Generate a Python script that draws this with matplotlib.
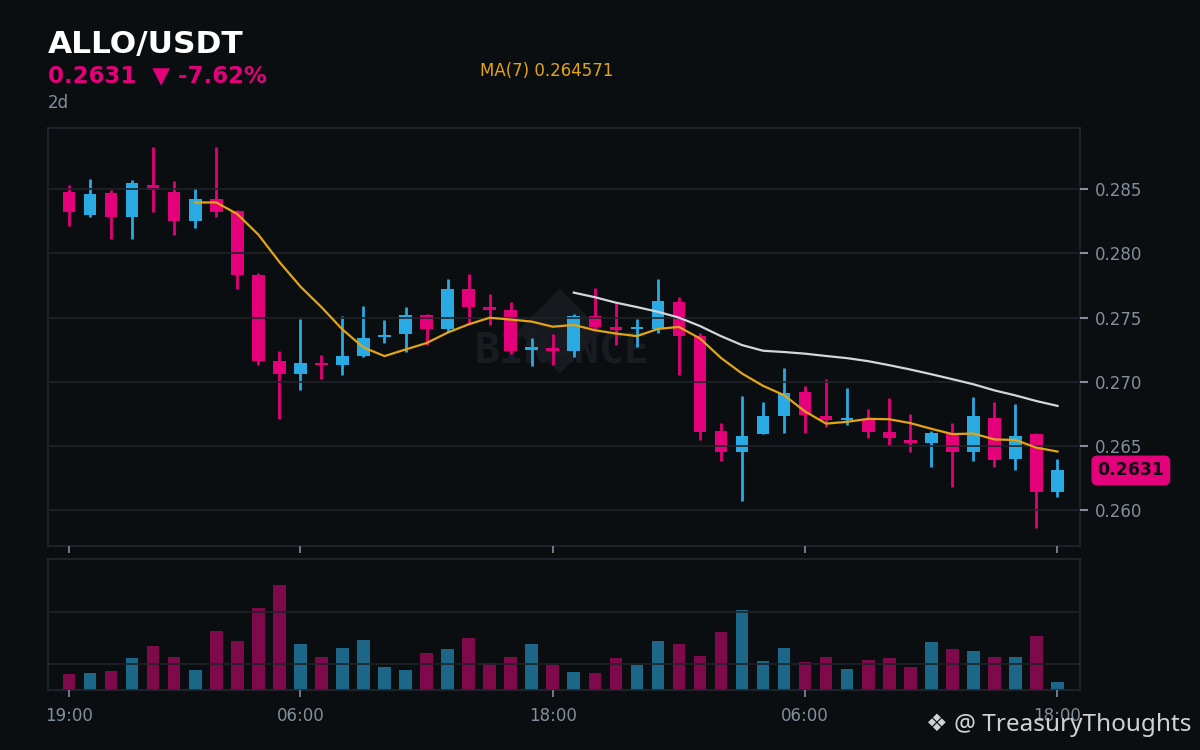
import numpy as np
import pandas as pd
import matplotlib
matplotlib.use('Agg')
import matplotlib.pyplot as plt

# hourly candles, 19:00 -> 18:00 two days later
opens = [0.2848, 0.2830, 0.2847, 0.2828, 0.2853, 0.2848, 0.2825, 0.2842, 0.2833, 0.2783, 0.2716, 0.2706,
         0.2715, 0.2713, 0.2720, 0.2735, 0.2737, 0.2752, 0.2741, 0.2772, 0.2758, 0.2756, 0.2725, 0.2726,
         0.2724, 0.2751, 0.2743, 0.2741, 0.2741, 0.2762, 0.2736, 0.2662, 0.2645, 0.2659, 0.2673, 0.2692,
         0.2673, 0.2670, 0.2670, 0.2661, 0.2655, 0.2652, 0.2660, 0.2645, 0.2672, 0.2640, 0.2659, 0.2614]
closes = [0.2832, 0.2846, 0.2828, 0.2855, 0.2849, 0.2825, 0.2842, 0.2832, 0.2783, 0.2716, 0.2706, 0.2715,
          0.2713, 0.2720, 0.2734, 0.2736, 0.2752, 0.2741, 0.2772, 0.2758, 0.2756, 0.2724, 0.2725, 0.2724,
          0.2751, 0.2743, 0.2740, 0.2742, 0.2763, 0.2736, 0.2661, 0.2645, 0.2658, 0.2673, 0.2691, 0.2674,
          0.2670, 0.2671, 0.2661, 0.2656, 0.2652, 0.2660, 0.2645, 0.2673, 0.2639, 0.2658, 0.2614, 0.2631]
highs = [0.2853, 0.2858, 0.2849, 0.2857, 0.2883, 0.2856, 0.2851, 0.2883, 0.2834, 0.2785, 0.2724, 0.2749,
         0.2721, 0.2751, 0.2759, 0.2748, 0.2758, 0.2753, 0.2780, 0.2784, 0.2768, 0.2762, 0.2734, 0.2737,
         0.2753, 0.2773, 0.2761, 0.2749, 0.2780, 0.2766, 0.2738, 0.2668, 0.2689, 0.2684, 0.2711, 0.2697,
         0.2702, 0.2695, 0.2679, 0.2687, 0.2675, 0.2662, 0.2668, 0.2688, 0.2684, 0.2683, 0.2660, 0.2640]
lows = [0.2821, 0.2828, 0.2811, 0.2811, 0.2832, 0.2814, 0.2820, 0.2828, 0.2772, 0.2713, 0.2671, 0.2694,
        0.2702, 0.2705, 0.2719, 0.2730, 0.2723, 0.2729, 0.2739, 0.2745, 0.2744, 0.2722, 0.2712, 0.2713,
        0.2719, 0.2741, 0.2729, 0.2727, 0.2738, 0.2705, 0.2655, 0.2638, 0.2607, 0.2659, 0.2660, 0.2660,
        0.2665, 0.2666, 0.2656, 0.2651, 0.2645, 0.2634, 0.2618, 0.2638, 0.2634, 0.2631, 0.2586, 0.2610]
volumes = [0.81, 0.83, 0.87, 1.12, 1.35, 1.14, 0.89, 1.64, 1.44, 2.08, 2.52, 1.39,
           1.14, 1.31, 1.46, 0.96, 0.89, 1.21, 1.29, 1.50, 1.02, 1.15, 1.40, 0.98,
           0.85, 0.83, 1.12, 0.98, 1.44, 1.40, 1.17, 1.62, 2.04, 1.06, 1.31, 1.04,
           1.15, 0.92, 1.08, 1.12, 0.96, 1.42, 1.29, 1.25, 1.14, 1.15, 1.54, 0.67]
tick_pos = [0, 11, 23, 35, 47]
tick_labels = ['19:00', '06:00', '18:00', '06:00', '18:00']
price_ticks = [0.260, 0.265, 0.270, 0.275, 0.280, 0.285]

BG = '#0b0e11'
GRID = '#1f2329'
SPINE = '#24282e'
TXT = '#848e9c'
UP = '#2aaae2'
DOWN = '#e4007a'
UP_VOL = '#1c6688'
DOWN_VOL = '#7e0a4b'

df = pd.DataFrame({'open': opens, 'high': highs, 'low': lows, 'close': closes, 'vol': volumes})
df['ma7'] = df['close'].rolling(7).mean()
df['ma25'] = df['close'].rolling(25).mean()
x = np.arange(len(df))
up = df['close'] >= df['open']
colors = np.where(up, UP, DOWN)
vcolors = np.where(up, UP_VOL, DOWN_VOL)

fig = plt.figure(figsize=(12, 7.5), dpi=100, facecolor=BG)
ax = fig.add_axes([0.04, 0.272, 0.86, 0.5573])
axv = fig.add_axes([0.04, 0.08, 0.86, 0.1747])

for a in (ax, axv):
    a.set_facecolor(BG)
    for s in a.spines.values():
        s.set_color(SPINE)
        s.set_linewidth(1.2)
    a.set_xlim(-1.0, 48.07)
    a.set_axisbelow(False)
    a.grid(axis='y', color=GRID, linewidth=1.2)
    a.set_xticks(tick_pos)
    a.tick_params(axis='x', colors=TXT, length=5, width=1.2, labelsize=12, pad=7)

# candles
body_bot = np.minimum(df['open'], df['close'])
body_h = np.maximum((df['open'] - df['close']).abs(), 0.00018)
ax.vlines(x, df['low'], df['high'], colors=colors, linewidth=2, zorder=1)
ax.bar(x, body_h, bottom=body_bot, width=0.6, color=colors, zorder=1.5)
ax.plot(x, df['ma7'], color='#e3a512', linewidth=1.6, zorder=3)
ax.plot(x, df['ma25'], color='#d4d6da', linewidth=1.6, zorder=3)

ax.set_ylim(0.25722, 0.28975)
ax.set_yticks(price_ticks)
ax.set_yticklabels([f'{v:.3f}' for v in price_ticks])
ax.yaxis.tick_right()
ax.tick_params(axis='y', colors=TXT, length=6, width=1.5, labelsize=12, pad=5)
ax.tick_params(axis='x', labelbottom=False)

# binance watermark
ax.text(0.496, 0.52, '\u25c6', transform=ax.transAxes, fontsize=80, color='#16191d',
        ha='center', va='center', zorder=0)
ax.text(0.498, 0.465, 'BINANCE', transform=ax.transAxes, fontsize=30, color='#181b20',
        family='DejaVu Sans Mono', fontweight='bold', ha='center', va='center', zorder=0)

# last price tag
ax.text(1.0168, closes[-1], f'{closes[-1]:.4f}', transform=ax.get_yaxis_transform(),
        fontsize=12.5, fontweight='bold', color='#0b0e11', ha='left', va='center',
        bbox=dict(boxstyle='round,pad=0.3,rounding_size=0.3', facecolor=DOWN, edgecolor=DOWN))

# volume
axv.bar(x, df['vol'], width=0.6, color=vcolors, zorder=1)
axv.set_ylim(0.51, 3.02)
axv.set_yticks([1, 2])
axv.tick_params(axis='y', left=False, labelleft=False)
axv.set_xticklabels(tick_labels)

# header
fig.text(0.04, 0.941, 'ALLO/USDT', fontsize=22.5, fontweight='bold', color='white', va='center')
chg = (closes[-1] / opens[0] - 1) * 100
fig.text(0.04, 0.899, f'{closes[-1]:.4f}  \u25bc {chg:.2f}%', fontsize=16.5, fontweight='bold',
         color=DOWN, va='center')
fig.text(0.04, 0.863, '2d', fontsize=12, color=TXT, va='center')
fig.text(0.4, 0.906, f'MA(7) {df["ma7"].iloc[-1]:.6f}', fontsize=12, color='#e3a512', va='center')

fig.text(0.993, 0.033, '\u2756 @ TreasuryThoughts', fontsize=17.5, color='#d0d2d6',
         family=['Noto Sans', 'DejaVu Sans'], ha='right', va='center')

fig.savefig('out.png', dpi=100, facecolor=BG)
